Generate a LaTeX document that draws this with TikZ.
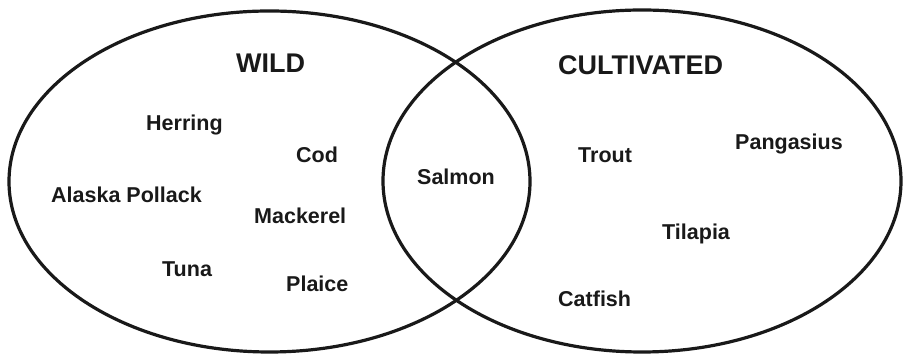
\documentclass[tikz,border=0pt]{standalone}
\usepackage{fontspec}
\setmainfont{Liberation Sans}
\begin{document}
\begin{tikzpicture}[x=1pt,y=1pt,
  setline/.style={line width=3.2pt, draw=black!90},
  lbl/.style={anchor=base west, inner sep=0pt, font=\bfseries\fontsize{21.5}{24}\selectfont, text=black!90},
  ttl/.style={anchor=base west, inner sep=0pt, font=\bfseries\fontsize{27}{30}\selectfont, text=black!90}]
\useasboundingbox (0,0) rectangle (903,355);
\draw[setline] (269.5,173.5) ellipse [x radius=260.5, y radius=170.5];
\draw[setline] (642,174) ellipse [x radius=259, y radius=171];
\node[ttl] (wild) at (236,282) {WILD};
\node[ttl] (cult) at (558,280) {CULTIVATED};
\node[lbl] (herring) at (146,224) {Herring};
\node[lbl] (cod) at (296,192) {Cod};
\node[lbl] (alaska) at (51,152) {Alaska Pollack};
\node[lbl] (mackerel) at (254,131) {Mackerel};
\node[lbl] (tuna) at (162,78) {Tuna};
\node[lbl] (plaice) at (286,63) {Plaice};
\node[lbl] (salmon) at (417,170) {Salmon};
\node[lbl] (trout) at (578,192) {Trout};
\node[lbl] (pangasius) at (735,205) {Pangasius};
\node[lbl] (tilapia) at (662,115) {Tilapia};
\node[lbl] (catfish) at (558,48) {Catfish};
\end{tikzpicture}
\end{document}
